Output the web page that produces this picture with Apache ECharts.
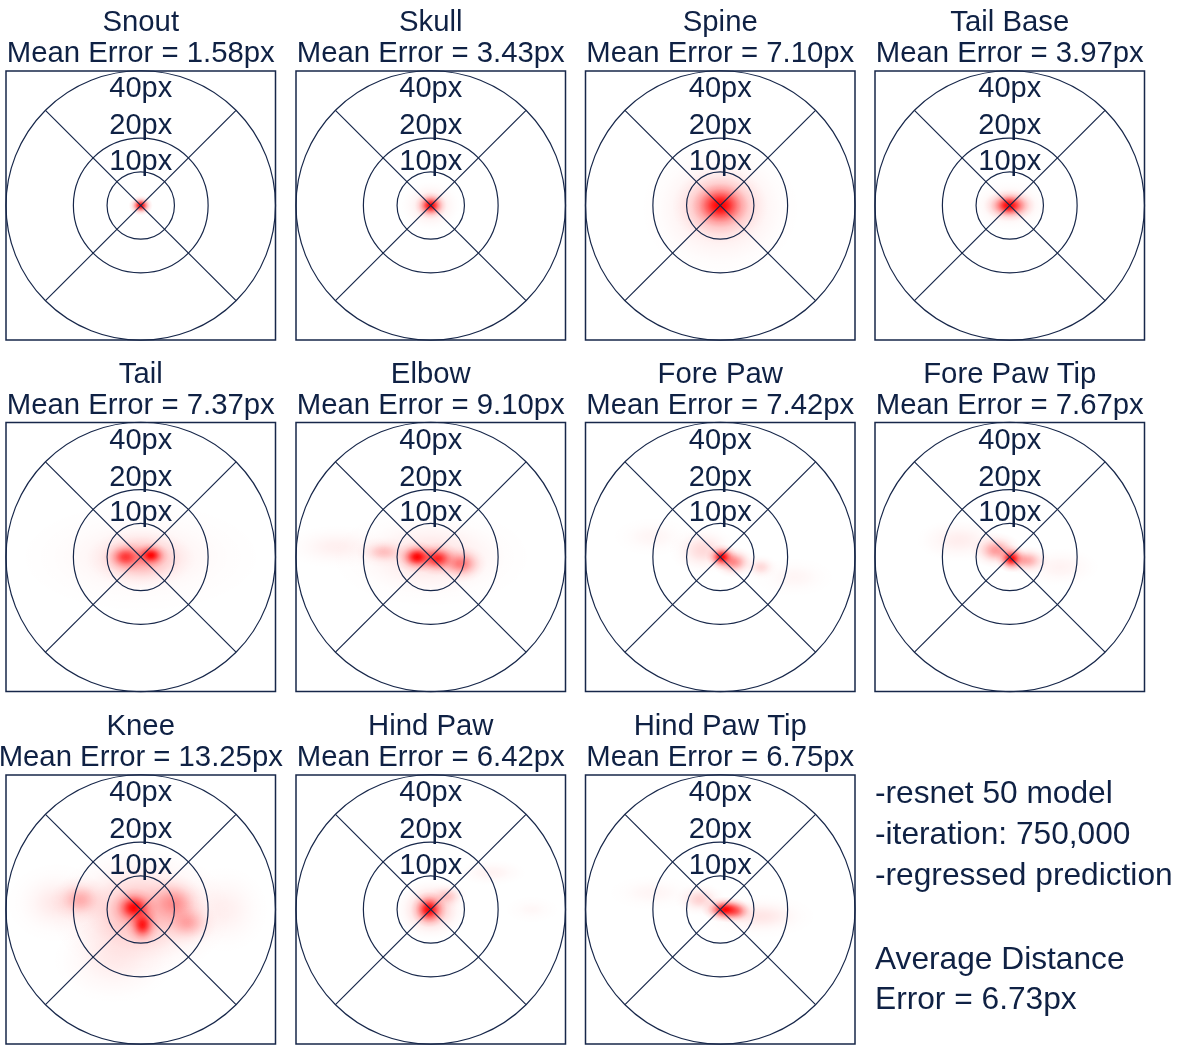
<!DOCTYPE html>
<html><head><meta charset="utf-8">
<script src="https://cdn.jsdelivr.net/npm/echarts@6/dist/echarts.min.js"></script>
<style>html,body{margin:0;padding:0;background:#fff}#c{width:1183px;height:1045px}</style>
</head><body><div id="c"></div>
<script>
// ---------------- data ----------------
const keypoints = ['Snout','Skull','Spine','Tail Base','Tail','Elbow','Fore Paw','Fore Paw Tip','Knee','Hind Paw','Hind Paw Tip'];
const meanErrors = [1.58, 3.43, 7.10, 3.97, 7.37, 9.10, 7.42, 7.67, 13.25, 6.42, 6.75];
const ringRadii = [10, 20, 40];
const ringLabels = ['10px', '20px', '40px'];
const axisMin = -40, axisMax = 40;
const notes = ['-resnet 50 model', '-iteration: 750,000', '-regressed prediction'];
const averageError = 6.73;

// error-density blobs: [dx, dy, sigmaX, sigmaY, weight] (px error)
const snoutBlobs = [[0,0,1.2,1.0,1.0]];
const skullBlobs = [[0,0,1.6,1.35,1.0],[0,0,3,2.5,0.18]];
const spineBlobs = [[0,0,2.8,2.2,1.0],[0,0,4.8,3.8,0.5],[0,-1,8,7,0.15]];
const tailBaseBlobs = [[0,0,2.6,1.6,0.9],[-0.5,0,1.2,1.0,0.6],[0,0,4,2.5,0.15]];
const tailBlobs = [[3,0.5,1.8,1.3,1.0],[-4.5,0,2.2,1.6,0.7],[0,-0.5,5.5,3,0.35],[0,0,12,5.5,0.08]];
const elbowBlobs = [[-4,0,2.2,1.6,1.0],[2,-0.5,2.4,1.7,0.85],[9,-2,2.6,1.9,0.5],[-14,1.5,2.8,1.5,0.22],[-28,3,6,2.5,0.06],[0,0,10,5,0.12]];
const forePawBlobs = [[0.5,0,1.6,1.3,1.0],[4,-1.5,2.2,1.6,0.45],[12,-3,1.8,1.3,0.15],[-5,2,3.5,2.5,0.15],[-20,6,4.5,2.2,0.04],[22,-6,4.5,2.2,0.04]];
const forePawTipBlobs = [[0.5,-0.5,1.6,1.4,1.0],[-4,2,2.6,1.8,0.4],[5,-1,2.4,1.5,0.35],[-15,5,5,2.5,0.07],[15,-3,4.5,2.2,0.05]];
const kneeBlobs = [[-2,0.5,2.4,2.0,1.0],[0.5,-4.5,1.7,2.1,0.9],[-18,3,3,2.4,0.28],[10,2,3.4,2.8,0.35],[14,-4,3,2.4,0.3],[0,-1,9,6.5,0.3],[-8,-15,7,5,0.07],[-25,2,5,4,0.09],[25,0,5,5,0.06]];
const hindPawBlobs = [[-0.5,0,1.8,1.8,1.0],[0,0,3.5,3,0.35],[5,4,2,1.4,0.2],[18,11,4,1.5,0.05],[30,0,3,1.5,0.03]];
const hindPawTipBlobs = [[1.5,0,2.4,1.3,1.0],[4.5,-0.5,2,1.3,0.5],[-6,3,2.6,1.7,0.18],[12,-2,5.5,2.2,0.1],[-20,5,5,2,0.04]];
const panelBlobs = [snoutBlobs, skullBlobs, spineBlobs, tailBaseBlobs, tailBlobs, elbowBlobs, forePawBlobs, forePawTipBlobs, kneeBlobs, hindPawBlobs, hindPawTipBlobs];

// ---------------- layout / style ----------------
const FONT = '"Liberation Sans", Arial, Helvetica, sans-serif';
const TEXT = '#0f2144';
const LINE = '#17274a';
const colLeft = [6, 296, 585.5, 875];
const rowTop = [71, 422.5, 775];
const PW = 269.5, PH = 269;
const ringLabelShift = {10: 3.0, 20: 3.6, 40: -5.5};
const gaussStops = [[0,1],[0.15,0.9],[0.3,0.67],[0.45,0.4],[0.6,0.2],[0.75,0.08],[0.9,0.027],[1,0]];

const chart = echarts.init(document.getElementById('c'), null, {renderer: 'canvas'});
const grids = [], xAxes = [], yAxes = [], series = [], graphics = [];

function blobItem(params, api) {
  const c = api.coord([api.value(0), api.value(1)]);
  const s = api.size([api.value(2), api.value(3)]);
  const w = api.value(4);
  const stops = gaussStops.map(p => ({offset: p[0], color: 'rgba(255,0,0,' + (p[1] * w).toFixed(4) + ')'}));
  return {
    type: 'circle', x: c[0], y: c[1], scaleX: s[0] * 3 / 10, scaleY: s[1] * 3 / 10,
    shape: {cx: 0, cy: 0, r: 10},
    style: {fill: new echarts.graphic.RadialGradient(0.5, 0.5, 0.5, stops), stroke: null},
    silent: true
  };
}
function ringItem(params, api) {
  const r = api.value(0);
  const c = api.coord([0, 0]);
  const rp = api.size([r, 0])[0];
  const lp = api.coord([0, r + ringLabelShift[r]]);
  return {
    type: 'group', children: [
      {type: 'circle', shape: {cx: c[0], cy: c[1], r: rp}, style: {fill: null, stroke: LINE, lineWidth: 1.2}, z2: 1},
      {type: 'text', z2: 5, style: {text: ringLabels[params.dataIndex], x: lp[0], y: lp[1], fill: TEXT,
        font: '29px ' + FONT, align: 'center', verticalAlign: 'middle', textAlign: 'center', textVerticalAlign: 'middle'}}
    ]
  };
}
function diagItem(params, api) {
  const a = api.coord([api.value(0), api.value(1)]);
  const b = api.coord([api.value(2), api.value(3)]);
  return {type: 'line', shape: {x1: a[0], y1: a[1], x2: b[0], y2: b[1]}, style: {stroke: LINE, lineWidth: 1.2}};
}

const outerR = Math.max.apply(null, ringRadii);
const d = outerR * Math.SQRT1_2;
const diagData = [[-d, d, d, -d], [-d, -d, d, d]];

keypoints.forEach((name, i) => {
  const col = i % 4, row = Math.floor(i / 4);
  const left = colLeft[col], top = rowTop[row];
  grids.push({left: left, top: top, width: PW, height: PH, show: true, borderColor: LINE, borderWidth: 1.5, backgroundColor: 'transparent', containLabel: false});
  xAxes.push({gridIndex: i, type: 'value', min: axisMin, max: axisMax, show: false});
  yAxes.push({gridIndex: i, type: 'value', min: axisMin, max: axisMax, show: false});
  series.push({type: 'custom', xAxisIndex: i, yAxisIndex: i, renderItem: blobItem, data: panelBlobs[i], clip: true, z: 1, silent: true});
  series.push({type: 'custom', xAxisIndex: i, yAxisIndex: i, renderItem: diagItem, data: diagData, z: 2, silent: true});
  series.push({type: 'custom', xAxisIndex: i, yAxisIndex: i, renderItem: ringItem, data: ringRadii.map(r => [r]), z: 3, silent: true});
  const cx = left + PW / 2;
  graphics.push({type: 'text', style: {text: name, x: cx, y: top - 48, fill: TEXT, font: '29.3px ' + FONT, align: 'center', verticalAlign: 'middle', textAlign: 'center', textVerticalAlign: 'middle'}});
  graphics.push({type: 'text', style: {text: 'Mean Error = ' + meanErrors[i].toFixed(2) + 'px', x: cx, y: top - 17, fill: TEXT, font: '29.3px ' + FONT, align: 'center', verticalAlign: 'middle', textAlign: 'center', textVerticalAlign: 'middle'}});
});

const noteLines = notes.concat(['', 'Average Distance', 'Error = ' + averageError.toFixed(2) + 'px']);
const noteY = [794, 835, 876, 918, 960, 1000];
noteLines.forEach((t, k) => {
  if (!t) return;
  graphics.push({type: 'text', style: {text: t, x: 875, y: noteY[k], fill: TEXT, font: '31.7px ' + FONT, align: 'left', verticalAlign: 'middle', textAlign: 'left', textVerticalAlign: 'middle'}});
});

chart.setOption({
  animation: false,
  backgroundColor: '#ffffff',
  grid: grids, xAxis: xAxes, yAxis: yAxes, series: series,
  graphic: {elements: graphics}
});
</script></body></html>
